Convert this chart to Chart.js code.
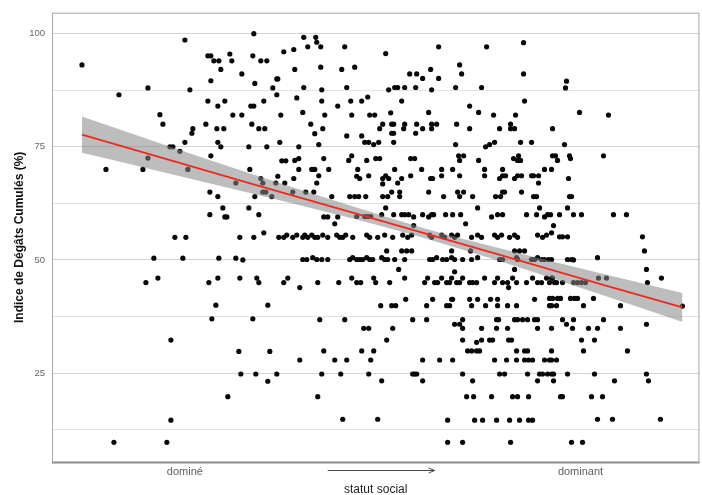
<!DOCTYPE html>
<html>
<head>
<meta charset="utf-8">
<script src="https://cdn.jsdelivr.net/npm/chart.js@4.4.1/dist/chart.umd.min.js"></script>
<style>
  html, body { margin: 0; padding: 0; background: #fff; }
  canvas { display: block; }
</style>
</head>
<body>
<canvas id="myChart" width="702" height="495"></canvas>
<script>
// statut social (score, 0 = plus dominé) / indice de dégâts cumulés (%)
const observations = [
  [30,93.1],[133,98.6],[202,100],[156,95.1],[159,95.1],[162,94],[167,94],[178,95.5],[180,94],[201,95.1],[209,94],[215,94],
  [169,92.1],[190,91.1],[159,89.6],[203,89],[225,90],[96,88],[138,87.6],[67,86.5],[221,88],[225,86.5],[156,85.1],[166,84],
  [173,85.1],[199,84],[202,84],[212,85.1],[108,82.1],[111,80],[181,82],[190,82],[154,80],[165,79],[172,79],[141,79],[140,78],
  [200,80],[207,79],[213,79],[133,76],[166,76],[169,75],[118,75],[121,75],[197,75],[215,75],[128,74],[96,72.5],[159,73],
  [54,70],[91,70],[136,70],[198,70],[184,67],[209,68],[211,67],[224,67],[226,68.5],[158,65],[166,64],[203,64],[211,65],
  [214,65],[220,64],[171,61.5],[173,59.5],[175,59.5],[158,60],[197,61.5],[207,60],[212,56],[123,55],[134,55],[188,55],
  [202,55],[227,55],
  [102,50.4],[131,50.4],[167,50.4],[184,50.4],[191,50],[94,45],[106,46],[157,45],[166,46],[188,46],[205,46],[207,45],
  [164,40],[216,40],[160,37],[201,37],[119,32.3],[187,29.8],[218,29.8],[189,24.8],[204,24.8],[225,24.8],[216,23.2],
  [176,19.8],[119,14.6],[62,9.7],[115,9.7],
  [252,99.2],[264,99.2],[265,98.1],[269,97.1],[256,97.1],[293,97.1],[232,96],[242,96.5],[334,95.6],[243,92.1],[269,92.6],
  [290,92.1],[303,92.6],[358,91.1],[226,90],[252,88.1],[270,87.6],[295,88.1],[337,87.6],[343,88.1],[346,88.1],[353,88.1],
  [245,85.8],[270,85.1],[286,84],[299,85.1],[310,85.1],[316,86],[350,85.1],[229,82],[251,82.6],[273,82],[300,82],[318,82],
  [323,82],[339,82.5],[259,80],[271,79],[263,77.9],[295,77.4],[310,77.4],[331,80],[340,80],[342,80],[353,80],[328,79],
  [340,78],[342,78],[352,79],[228,76],[247,75],[267,75.5],[313,76],[317,76],[322,75.5],[327,76],[342,76],[230,71.9],
  [234,71.9],[243,72],[247,72.4],[272,72.4],[300,73],[297,72],[315,72],[324,72.4],[328,72.4],[359,72.4],[247,70],[260,70],
  [263,70],[277,70],[306,70],[343,70],[242,68],[267,68.6],[305,68.5],[308,68],[317,68.6],[331,68],[334,68.6],[337,68],
  [350,68],[359,68.6],[233,67],[265,67],[331,66.8],[346,67],[241,65],[254,65],[262,65],[280,64],[298,64],[303,64],[307,64],
  [314,64],[331,64],[336,64],[340,65],[348,65],[348,64],[334,61.5],[272,59.5],[276,59.5],[286,59.5],[283,58],[305,59.6],
  [313,59.6],[316,59.6],[319,59.6],[330,60],[342,60],[350,60],[353,60],[357,60],[362,57.6],
  [232,55],[235,55.5],[241,55],[245,55.5],[251,55],[253,55.5],[256,55],[260,55.5],[263,55],[266,55],[271,55.5],[276,55],
  [285,55.5],[288,55],[291,55],[294,55.5],[301,55],[315,55.5],[318,55],[326,55],[333,55.5],[341,55],[351,55.5],[356,55],
  [360,55.5],[335,52],[350,52],[355,52],
  [251,50.1],[255,50.1],[261,50.5],[265,50.1],[270,50.1],[276,50.1],[298,50.1],[301,50.5],[305,50.1],[308,50.1],[311,50.1],
  [315,50.5],[318,50.1],[321,50.1],[330,50.5],[333,50.1],[336,50.1],[343,50.1],[353,50.1],
  [347,47.9],[236,46],[232,45],[248,43.9],[266,45],[287,45],[300,46],[305,45],[309,45],[322,46],[324,45],[338,45],[353,46],
  [354,41.3],[329,39.9],[340,39.9],[344,39.9],[268,36.8],[293,36.8],[361,36.8],[312,34.9],[317,34.9],[341,34.9],[335,32.3],
  [272,29.9],[310,29.9],[322,29.9],[248,27.9],[283,27.9],[295,27.9],[319,27.9],[270,24.8],[289,24.8],[317,24.8],[361,24.8],
  [330,23.3],[266,19.8],[291,14.8],[326,14.8],
  [387,97.1],[435,97.1],[472,98],[408,93.1],[410,91.1],[379,92.1],[365,91.1],[371,90.1],[387,90.1],[472,91.1],[364,88.1],
  [380,87.6],[404,88.1],[430,88.1],[473,85.1],[418,84],[427,82.6],[377,82.6],[442,82],[464,82],[365,80],[371,79],[364,78],
  [380,80],[385,80],[380,79],[405,80],[418,79],[448,79],[459,80],[459,79],[463,79],[501,79],[404,75.5],[434,75],[438,75.5],
  [443,76],[469,76],[480,76],[363,72.4],[407,73],[412,73],[408,72],[427,72],[462,72.4],[467,73],[466,72],[469,72],[501,73],
  [370,70],[390,70],[401,70],[433,70],[451,70],[493,70],[500,70],[379,68],[381,68],[390,68.6],[408,68.6],[433,68.6],[448,68],
  [451,68.6],[454,68.6],[463,68],[466,68.6],[470,68.6],[480,68.6],[482,68.6],[487,68.6],[487,67],[377,65],[392,64],[406,65],
  [408,64],[412,65],[421,64],[444,64],[449,64],[451,65],[453,65],[470,65],[482,64],[485,64],[426,61.5],[488,61.5],[362,59.5],
  [371,60],[377,59.5],[380,60],[382,60],[394,60],[401,60],[409,60],[414,58],[440,59.5],[446,60],[451,60],[475,60],[485,60],
  [493,59.5],[496,60],[502,57.6],
  [378,55.5],[380,55],[390,55.5],[393,55],[400,55.5],[403,55],[406,55.5],[420,55],[426,55.5],[430,55],[443,55.5],[446,55],
  [450,55.5],[458,55],[463,55.5],[466,55],[486,55.5],[491,55],[495,55.5],[360,52],[400,52],[419,52],[463,52],[468,52],[473,52],
  [378,50.1],[381,50.1],[385,50.5],[391,50.1],[395,50.1],[400,50.5],[403,50.1],[411,50.1],[420,50.1],[426,50.5],[448,50.1],
  [451,50.1],[465,50.5],[466,50.1],[480,50.1],[483,50.1],[486,50.5],[490,50.1],[493,50.1],[497,50.1],[463,47.9],[403,47.4],
  [373,45],[376,46],[383,45],[386,45],[390,46],[395,45],[398,45],[400,46],[405,45],[408,45],[411,46],[418,45],[421,45],
  [425,45],[433,46],[443,45],[446,46],[451,45],[456,45],[461,46],[465,45],[475,45],[481,46],[486,45],[490,45],[495,46],
  [498,45],[457,43.9],
  [381,41.3],[400,41.3],[401,41.3],[418,41.3],[426,41.3],[439,41.3],[446,41.3],[483,41.3],
  [375,39.9],[395,39.9],[398,39.9],[420,39.9],[434,39.9],[446,39.9],[456,39.9],[465,39.9],[498,39.9],
  [375,36.8],[411,36.8],[445,36.8],[447,36.8],[463,36.8],[466,36.8],[471,36.8],[476,36.8],[483,36.8],[486,36.8],
  [403,35.8],[408,35.8],[411,34.9],[430,34.9],[445,34.9],[456,34.9],[486,34.9],
  [411,32.3],[425,31.8],[430,32.3],[438,32.3],[441,32.3],[457,32.3],[460,32.3],
  [416,29.9],[420,29.9],[425,29.9],[428,29.9],[465,29.9],[473,29.9],[476,29.9],
  [371,27.9],[388,27.9],[401,27.9],[443,27.9],[455,27.9],[465,27.9],[473,27.9],[477,27.9],[481,27.9],[493,27.9],[498,27.9],
  [363,24.8],[365,24.8],[411,24.8],[448,24.8],[453,24.8],[476,24.8],[488,24.8],[491,24.8],[496,24.8],[500,24.8],
  [371,23.3],[421,23.3],[486,23.3],
  [415,19.8],[422,19.8],[440,19.8],[461,19.8],[466,19.8],[477,19.8],
  [396,14.6],[423,14.6],[431,14.6],[445,14.6],[458,14.6],[468,14.6],[477,14.6],[481,14.6],
  [396,9.7],[411,9.7],[459,9.7],
  [515,89.5],[514,88],[528,82.6],[557,82],[513,75.5],[504,73],[506,72],[518,73],[519,72.4],[552,73],[517,68],[518,64],
  [520,64],[516,61.5],[499,60],[508,60],[522,60],[530,60],[562,60],[575,60],[500,56],[508,55.1],[511,55.1],[516,55.1],
  [591,55.1],
  [593,52],[546,50.5],[500,50.1],[516,50.1],[520,50.1],[522,50],[595,47.9],[500,46],[501,46],[503,45],[505,45],[511,45],
  [522,45],[526,45],[530,45],[534,45],[547,46],[555,46],[596,45],[610,46],[631,39.8],[498,41.5],[501,41.5],[506,41.5],
  [509,41.5],[519,41.5],[523,41.5],[526,41.5],[542,41.5],[500,39.9],[505,39.9],[532,39.9],[569,39.9],[511,36.8],[522,36.8],
  [515,35.8],[552,36.8],[500,34.9],[521,34.9],[537,34.9],[546,34.9],[569,34.9],[595,35.8],[530,32.3],[543,32.3],[500,29.9],
  [532,29.9],[576,29.9],[500,27.9],[505,27.9],[502,24.8],[516,24.8],[543,24.8],[595,24.8],[597,23.3],[502,23.3],[563,23.3],
  [509,19.8],[511,19.8],[540,19.8],[551,19.8],[546,14.8],[561,14.8],[609,14.8],[520,9.7],[531,9.7]
];

// droite de régression et intervalle de confiance
const fitX     = [30, 100, 200, 300, 368, 450, 550, 631];
const fitY     = [77.7, 73.2, 66.8, 60.5, 56.2, 51.0, 44.6, 39.5];
const bandHigh = [81.7, 76.4, 69.0, 61.9, 57.3, 52.5, 47.0, 42.7];
const bandLow  = [73.7, 70.0, 64.7, 59.2, 55.1, 49.6, 42.3, 36.3];

const yTicks = [12.5, 25, 37.5, 50, 62.5, 75, 87.5, 100];
const xTicks = [133, 529];
const xTickLabels = ['dominé', 'dominant'];
const arrowRange = [276, 383];

const FONT = "'Liberation Sans', Arial, sans-serif";

const panelFrame = {
    id: 'panelFrame',
    afterDraw(chart) {
        const {ctx, chartArea: a, scales} = chart;
        ctx.save();
        ctx.strokeStyle = '#a8a8a8';
        ctx.lineWidth = 1;
        ctx.strokeRect(a.left + 0.5, a.top + 0.5, a.right - a.left - 1, a.bottom - a.top);
        ctx.strokeStyle = '#8e8e8e';
        ctx.lineWidth = 2;
        ctx.beginPath();
        ctx.moveTo(a.left, a.bottom + 0.5);
        ctx.lineTo(a.right, a.bottom + 0.5);
        ctx.stroke();

        // flèche sous l'axe x
        const x0 = scales.x.getPixelForValue(arrowRange[0]);
        const x1 = scales.x.getPixelForValue(arrowRange[1]);
        const y = a.bottom + 8.5;
        ctx.strokeStyle = '#4a4a4a';
        ctx.lineWidth = 1;
        ctx.beginPath();
        ctx.moveTo(x0, y);
        ctx.lineTo(x1, y);
        ctx.moveTo(x1 - 6, y - 2.5);
        ctx.lineTo(x1, y);
        ctx.lineTo(x1 - 6, y + 2.5);
        ctx.stroke();
        ctx.restore();
    }
};

const ctx = document.getElementById('myChart');

new Chart(ctx, {
    type: 'scatter',
    data: {
        datasets: [
            {
                label: 'observations',
                data: observations.map(p => ({x: p[0], y: p[1]})),
                pointRadius: 2.6,
                pointHoverRadius: 2.6,
                backgroundColor: '#080808',
                borderWidth: 0,
                order: 3
            },
            {
                label: 'ic bas',
                data: fitX.map((x, i) => ({x: x, y: bandLow[i]})),
                showLine: true,
                pointRadius: 0,
                borderWidth: 0,
                borderColor: 'rgba(0,0,0,0)',
                cubicInterpolationMode: 'monotone',
                fill: false,
                order: 2
            },
            {
                label: 'ic haut',
                data: fitX.map((x, i) => ({x: x, y: bandHigh[i]})),
                showLine: true,
                pointRadius: 0,
                borderWidth: 0,
                borderColor: 'rgba(0,0,0,0)',
                cubicInterpolationMode: 'monotone',
                backgroundColor: 'rgba(135,135,135,0.55)',
                fill: '-1',
                order: 2
            },
            {
                label: 'régression',
                data: fitX.map((x, i) => ({x: x, y: fitY[i]})),
                showLine: true,
                pointRadius: 0,
                borderColor: '#ee2a20',
                borderWidth: 1.8,
                fill: false,
                order: 1
            }
        ]
    },
    options: {
        responsive: false,
        animation: false,
        devicePixelRatio: 1,
        layout: { padding: { top: 12, right: 2, left: 0, bottom: 0 } },
        plugins: {
            legend: { display: false },
            tooltip: { enabled: false }
        },
        scales: {
            x: {
                type: 'linear',
                min: 0,
                max: 648,
                grid: { display: false, drawTicks: false },
                border: { display: false },
                afterBuildTicks: s => { s.ticks = xTicks.map(v => ({value: v})); },
                afterFit: s => { s.height = 33; },
                ticks: {
                    padding: 3,
                    color: '#5e5e5e',
                    font: { family: FONT, size: 11 },
                    callback: v => xTickLabels[xTicks.indexOf(v)]
                },
                title: {
                    display: true,
                    text: 'statut social',
                    color: '#1e1e1e',
                    font: { family: FONT, size: 12 },
                    padding: { top: 0, bottom: -2 }
                }
            },
            y: {
                min: 5.36,
                max: 104.63,
                border: { display: false },
                grid: {
                    drawTicks: false,
                    lineWidth: 1,
                    color: c => (c.tick && c.tick.value % 25 === 0) ? '#d6d2ce' : '#e4e1de'
                },
                afterBuildTicks: s => { s.ticks = yTicks.map(v => ({value: v})); },
                afterFit: s => { s.width = 52; },
                ticks: {
                    padding: 7,
                    color: '#666',
                    font: { family: FONT, size: 9.5 },
                    callback: v => (v % 25 === 0 ? String(v) : '')
                },
                title: {
                    display: true,
                    text: 'Indice de Dégâts Cumulés (%)',
                    color: '#111',
                    font: { family: FONT, size: 12, weight: 'bold' },
                    padding: { top: 12.5, bottom: 0 }
                }
            }
        }
    },
    plugins: [panelFrame]
});
</script>
</body>
</html>
